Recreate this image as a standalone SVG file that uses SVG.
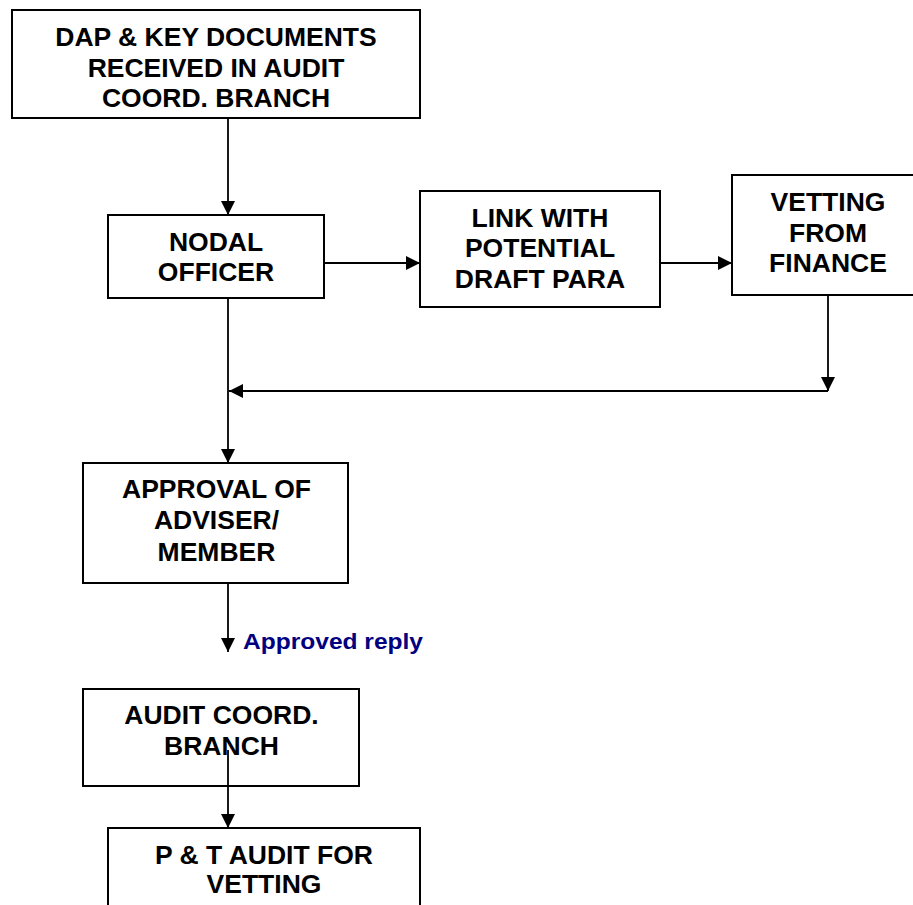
<svg xmlns="http://www.w3.org/2000/svg" width="913" height="905" viewBox="0 0 913 905">
<style>
.box{fill:#fff;stroke:#000;stroke-width:2}
.t{font-family:"Liberation Sans",Arial,sans-serif;font-weight:bold;font-size:26.5px;fill:#000;text-anchor:middle}
.lbl{font-family:"Liberation Sans",Arial,sans-serif;font-weight:bold;font-size:22px;fill:#000080}
.c{fill:none;stroke:#000;stroke-width:1.8}
</style>
<defs>
<marker id="ah" markerUnits="userSpaceOnUse" markerWidth="15" markerHeight="15" refX="14" refY="7" orient="auto">
<path d="M0,0 L14,7 L0,14 z" fill="#000"/>
</marker>
</defs>
<rect width="913" height="905" fill="#fff"/>
<g id="n-dap">
<rect class="box" x="12" y="10" width="408" height="108"/>
<text class="t" x="216" y="46">DAP &amp; KEY DOCUMENTS</text>
<text class="t" x="216" y="76.5">RECEIVED IN AUDIT</text>
<text class="t" x="216" y="107">COORD. BRANCH</text>
</g>
<g id="n-nodal">
<rect class="box" x="108" y="215" width="216" height="83"/>
<text class="t" x="216" y="251">NODAL</text>
<text class="t" x="216" y="281">OFFICER</text>
</g>
<g id="n-link">
<rect class="box" x="420" y="191" width="240" height="116"/>
<text class="t" x="540" y="227">LINK WITH</text>
<text class="t" x="540" y="257">POTENTIAL</text>
<text class="t" x="540" y="288">DRAFT PARA</text>
</g>
<g id="n-vetting">
<rect class="box" x="732" y="175" width="192" height="120"/>
<text class="t" x="828" y="211">VETTING</text>
<text class="t" x="828" y="242">FROM</text>
<text class="t" x="828" y="272">FINANCE</text>
</g>
<g id="n-approval">
<rect class="box" x="83" y="463" width="265" height="120"/>
<text class="t" x="216.5" y="498">APPROVAL OF</text>
<text class="t" x="216.5" y="529">ADVISER/</text>
<text class="t" x="216.5" y="561">MEMBER</text>
</g>
<g id="n-auditcoord">
<rect class="box" x="83" y="689" width="276" height="97"/>
<text class="t" x="221.5" y="724">AUDIT COORD.</text>
<text class="t" x="221.5" y="755">BRANCH</text>
</g>
<g id="n-pt">
<rect class="box" x="108" y="828" width="312" height="100"/>
<text class="t" x="264" y="864">P &amp; T AUDIT FOR</text>
<text class="t" x="264" y="893">VETTING</text>
</g>
<g id="connectors">
<line class="c" x1="228" y1="118" x2="228" y2="215" marker-end="url(#ah)"/>
<line class="c" x1="324" y1="263" x2="420" y2="263" marker-end="url(#ah)"/>
<line class="c" x1="660" y1="263" x2="732" y2="263" marker-end="url(#ah)"/>
<line class="c" x1="828" y1="295" x2="828" y2="391" marker-end="url(#ah)"/>
<line class="c" x1="828" y1="391" x2="229" y2="391" marker-end="url(#ah)"/>
<line class="c" x1="228" y1="298" x2="228" y2="463" marker-end="url(#ah)"/>
<line class="c" x1="228" y1="583" x2="228" y2="652" marker-end="url(#ah)"/>
<line class="c" x1="228" y1="750" x2="228" y2="828" marker-end="url(#ah)"/>
<text class="lbl" x="243" y="649" textLength="180" lengthAdjust="spacingAndGlyphs">Approved reply</text>
</g>
</svg>
